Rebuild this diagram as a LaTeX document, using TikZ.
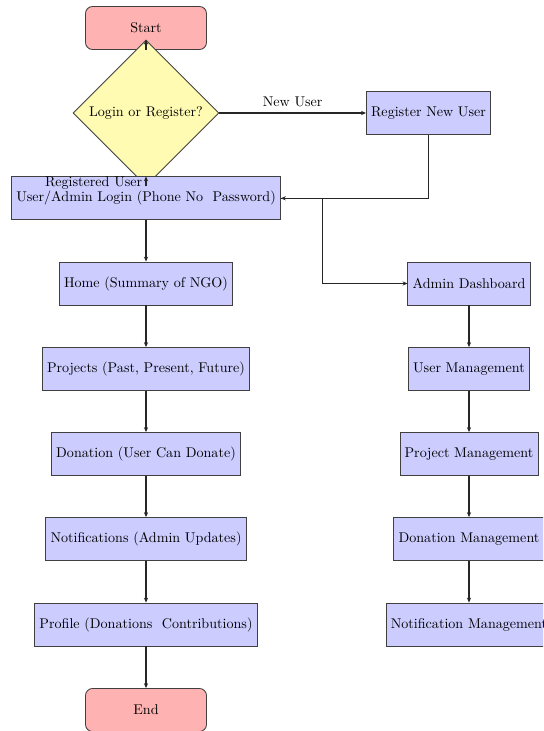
\documentclass[tikz,border=0pt]{standalone}
\usetikzlibrary{shapes.geometric,arrows.meta}
\begin{document}
\begin{tikzpicture}[x=0.709pt,y=-0.709pt,
  base/.style={draw=black!75, line width=0.6pt, font=\normalsize},
  startstop/.style={base, rectangle, rounded corners=5pt, fill=red!30, minimum width=85.8pt, minimum height=30.5pt},
  process/.style={base, rectangle, fill=blue!20, minimum height=30.5pt},
  decision/.style={base, diamond, aspect=1, fill=yellow!30, minimum width=103.5pt, minimum height=103.5pt, inner sep=1pt},
  arrow/.style={draw=black!85, line width=0.75pt, -{Stealth[length=3.5pt,width=3pt]}},
  line/.style={draw=black!85, line width=0.75pt}
]
\useasboundingbox (0,0) rectangle (543,731);
\clip (0,0) rectangle (543,731);
\node[startstop] (start) at (146,28) {Start};
\node[decision] (dec) at (146,113) {Login or Register?};
\node[process] (login) at (146,198.3) {User/Admin Login (Phone No\ \ Password)};
\node[process] (reg) at (428.5,113) {Register New User};
\node[process] (home) at (146,283.5) {Home (Summary of NGO)};
\node[process] (proj) at (146,369) {Projects (Past, Present, Future)};
\node[process] (don) at (146,454) {Donation (User Can Donate)};
\node[process] (notif) at (146,539) {Notifications (Admin Updates)};
\node[process] (prof) at (146,624.5) {Profile (Donations\ \ Contributions)};
\node[startstop] (end) at (146,710) {End};
\node[process] (admin) at (469,283.5) {Admin Dashboard};
\node[process] (umg) at (469,369) {User Management};
\node[process] (pmg) at (469,454) {Project Management};
\node[process] (dmg) at (469,539) {Donation Management};
\node[process] (nmg) at (469,624.5) {Notification Management};
\coordinate (branch) at (322.5,198.3);

\draw[arrow] (start.south) -- (dec.north);
\draw[arrow] (dec.east) -- node[above, yshift=1pt] {New User} (reg.west);
\draw[arrow] (dec.south) -- node[left, xshift=1pt, yshift=-1pt] {Registered User} (login.north);
\draw[arrow] (reg.south) |- (login.east);
\draw[line] (login.east) -- (branch);
\draw[arrow] (branch) |- (admin.west);
\draw[arrow] (login) -- (home);
\draw[arrow] (home) -- (proj);
\draw[arrow] (proj) -- (don);
\draw[arrow] (don) -- (notif);
\draw[arrow] (notif) -- (prof);
\draw[arrow] (prof) -- (end);
\draw[arrow] (admin) -- (umg);
\draw[arrow] (umg) -- (pmg);
\draw[arrow] (pmg) -- (dmg);
\draw[arrow] (dmg) -- (nmg);
\end{tikzpicture}
\end{document}
